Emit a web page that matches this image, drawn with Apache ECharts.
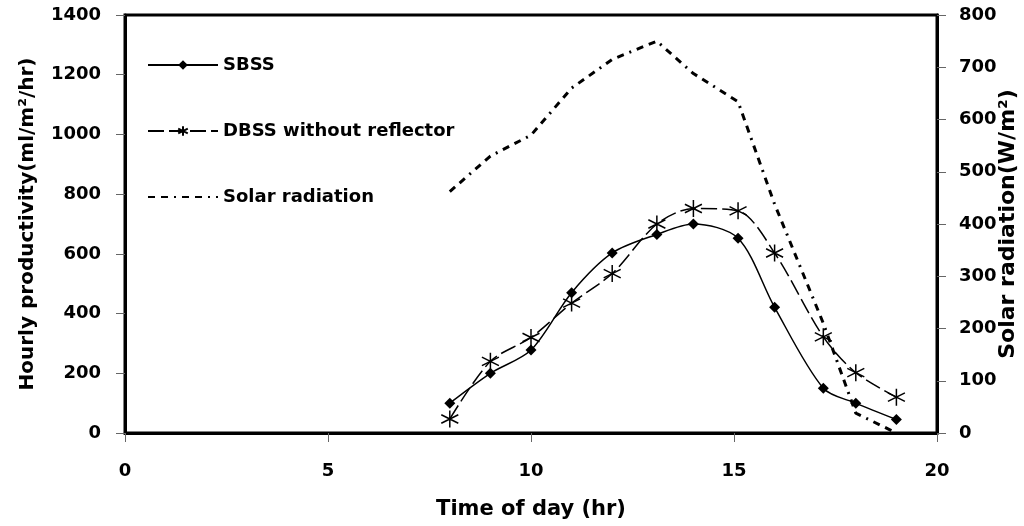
<!DOCTYPE html>
<html>
<head>
<meta charset="utf-8">
<script src="https://cdn.jsdelivr.net/npm/echarts@6/dist/echarts.min.js"></script>
<style>
  html, body { margin: 0; padding: 0; background: #fff; }
  #chart { width: 1024px; height: 526px; }
</style>
</head>
<body>
<div id="chart"></div>
<script>
// hourly productivity (ml/m2/hr), left axis
const sbssHours = [8, 9, 10, 11, 12, 13.1, 14, 15.1, 16, 17.2, 18, 19]
const sbssValues = [100, 200, 278, 470, 603, 665, 700, 652, 421, 150, 100, 45]

const dbssHours = [8, 9, 10, 11, 12, 13.1, 14, 15.1, 16, 17.2, 18, 19]
const dbssValues = [47, 240, 320, 435, 534, 700, 752, 744, 603, 322, 202, 120]

// solar radiation (W/m2), right axis
const solarHours = [8, 9, 10, 11, 12, 13.1, 14, 15.1, 16, 17.2, 18, 19]
const solarValues = [462, 530, 570, 660, 715, 750, 688, 634, 438, 210, 38, 0]

const xTicks = { min: 0, max: 20, interval: 5 }
const leftTicks = { min: 0, max: 1400, interval: 200 }
const rightTicks = { min: 0, max: 800, interval: 100 }

const font = 'DejaVu Sans, Arial, sans-serif'
const starPath = 'path://M0,-10L0,10M-8.66,-5L8.66,5M-8.66,5L8.66,-5'

const zip = (xs, ys) => xs.map((x, i) => [x, ys[i]])

const chart = echarts.init(document.getElementById('chart'))

const axisLabel = {
  color: '#000', fontFamily: font, fontWeight: 'bold', fontSize: 18,
  formatter: (v) => String(v)
}
const axisTick = { show: true, inside: false, length: 9, lineStyle: { color: '#666', width: 1 } }
const axisLine = { show: true, lineStyle: { color: '#000', width: 3 } }
const nameStyle = { color: '#000', fontFamily: font, fontWeight: 'bold', fontSize: 20 }

chart.setOption({
  animation: false,
  backgroundColor: '#fff',
  grid: {
    left: 125, right: 87, top: 15, bottom: 93,
    outerBoundsMode: 'none',
    show: true, borderColor: '#000', borderWidth: 3
  },
  legend: {
    orient: 'vertical',
    left: 142, top: 51,
    itemGap: 48,
    itemWidth: 70, itemHeight: 12,
    textStyle: { color: '#000', fontFamily: font, fontWeight: 'bold', fontSize: 18 },
    data: [
      'SBSS',
      'DBSS without reflector',
      { name: 'Solar radiation', itemStyle: { opacity: 0 } }
    ]
  },
  xAxis: {
    type: 'value',
    ...xTicks,
    name: 'Time of day (hr)',
    nameLocation: 'middle',
    nameGap: 66,
    nameMoveOverlap: false,
    nameTextStyle: { ...nameStyle, fontSize: 21 },
    axisLine, axisTick,
    axisLabel: { ...axisLabel, margin: 29 },
    splitLine: { show: false }
  },
  yAxis: [
    {
      type: 'value',
      ...leftTicks,
      name: 'Hourly productivity(ml/m²/hr)',
      nameLocation: 'middle',
      nameGap: 87,
      nameMoveOverlap: false,
      nameTextStyle: nameStyle,
      axisLine, axisTick,
      axisLabel: { ...axisLabel, margin: 24 },
      splitLine: { show: false }
    },
    {
      type: 'value',
      ...rightTicks,
      position: 'right',
      name: 'Solar radiation(W/m²)',
      nameLocation: 'middle',
      nameRotate: 90,
      nameGap: 60,
      nameMoveOverlap: false,
      nameTextStyle: { ...nameStyle, fontSize: 22 },
      axisLine, axisTick,
      axisLabel: { ...axisLabel, margin: 22 },
      splitLine: { show: false }
    }
  ],
  series: [
    {
      name: 'SBSS',
      type: 'line',
      smooth: 0.3,
      data: zip(sbssHours, sbssValues),
      symbol: 'diamond',
      symbolSize: 11,
      itemStyle: { color: '#000' },
      lineStyle: { color: '#000', width: 1.5 }
    },
    {
      name: 'DBSS without reflector',
      type: 'line',
      smooth: 0.3,
      data: zip(dbssHours, dbssValues),
      symbol: starPath,
      symbolSize: 17,
      itemStyle: { color: '#000', borderColor: '#000', borderWidth: 1.5 },
      lineStyle: { color: '#000', width: 1.5, type: [16, 5] }
    },
    {
      name: 'Solar radiation',
      type: 'line',
      yAxisIndex: 1,
      data: zip(solarHours, solarValues),
      symbol: 'none',
      itemStyle: { color: '#000' },
      lineStyle: { color: '#000', width: 3, type: [7, 6, 7, 6, 2, 6] }
    }
  ]
})

window.addEventListener('resize', () => {
  chart.resize()
})
</script>
</body>
</html>
